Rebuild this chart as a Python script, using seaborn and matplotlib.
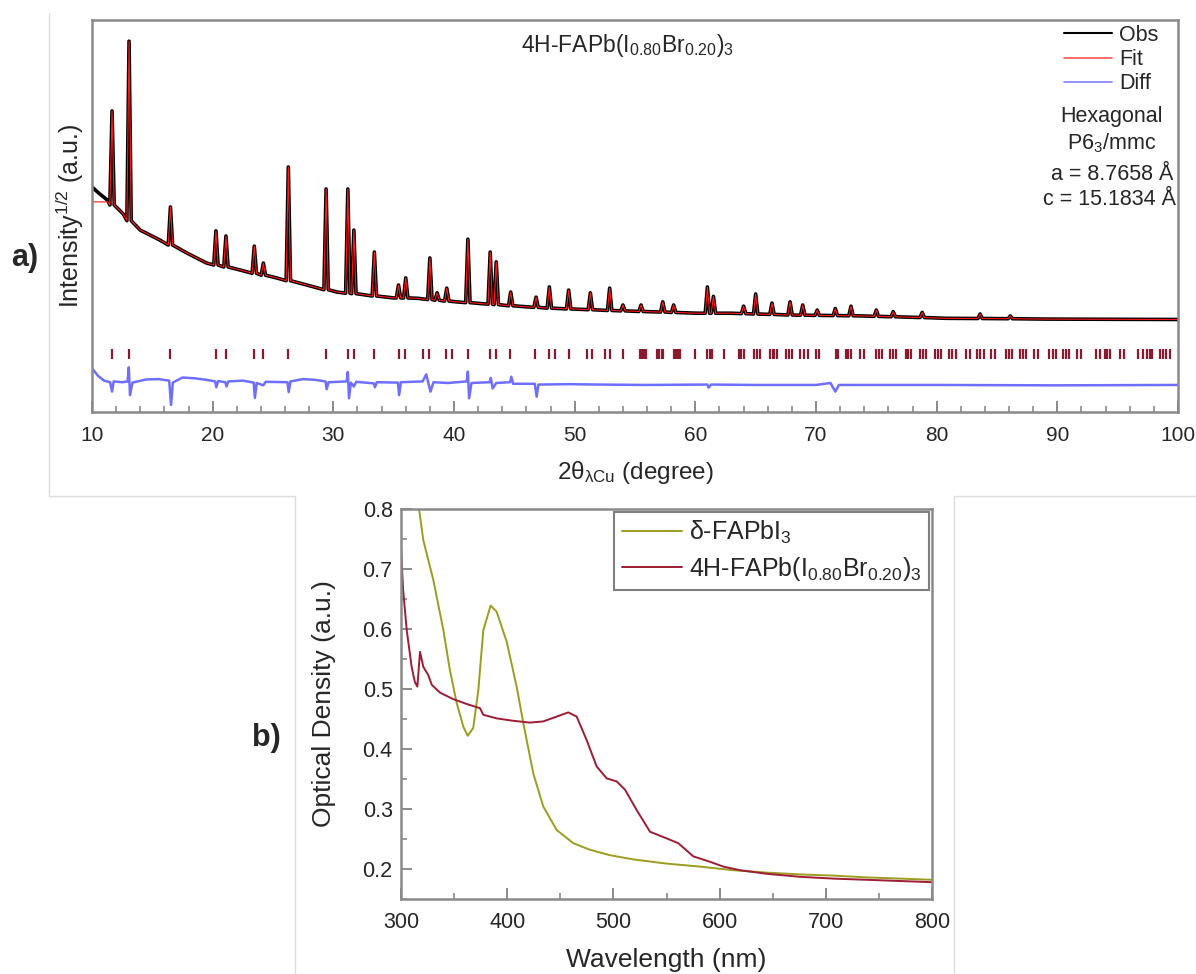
import numpy as np
import pandas as pd
import seaborn as sns
import matplotlib.pyplot as plt
from matplotlib.lines import Line2D
from matplotlib.ticker import MultipleLocator

# -- STYLE -- #
sns.set_style('white')
plt.rcParams['font.family'] = ['Liberation Sans', 'DejaVu Sans']
plt.rcParams['mathtext.fontset'] = 'custom'
plt.rcParams['mathtext.rm'] = 'Liberation Sans'
plt.rcParams['mathtext.it'] = 'Liberation Sans:italic'
plt.rcParams['mathtext.default'] = 'regular'

# -- DATA -- #
# a) XRD pattern, intensity in arbitrary units (0-100 scale of the panel)
bg_x = [10.0, 10.5, 11.3, 12.6, 14.0, 15.6, 17.9, 19.5, 22.3, 25.3, 27.8, 30.3, 32.8,
        35.0, 37.0, 40.2, 45.7, 50.4, 56.0, 60.1, 63.0, 68.4, 73.9, 80.8, 89.1, 100.0]
bg_y = [57.4, 56.0, 54.0, 50.5, 46.4, 43.9, 40.5, 38.0, 36.2, 34.2, 32.4, 30.6, 29.8,
        29.1, 29.0, 28.1, 26.9, 26.2, 25.6, 25.2, 25.2, 24.7, 24.5, 23.9, 23.7, 23.6]

peak_pos = [11.66, 13.07, 16.5, 20.27, 21.1, 23.45, 24.2, 26.27, 29.4, 31.2, 31.7, 33.4,
            35.4, 36.0, 38.0, 38.6, 39.4, 41.15, 43.0, 43.5, 44.7, 46.8, 47.9, 49.5,
            51.3, 52.9, 54.0, 55.5, 57.3, 58.2, 61.0, 61.5, 64.0, 65.0, 66.35, 67.85,
            68.9, 70.1, 71.6, 72.9, 75.0, 76.4, 78.8, 83.6, 86.1]
peak_top = [76.8, 94.6, 52.3, 46.2, 44.9, 42.3, 38.0, 62.5, 56.9, 56.9, 46.4, 40.8,
            32.4, 34.2, 39.3, 30.4, 31.6, 44.1, 40.8, 38.3, 30.6, 29.3, 31.9, 31.1,
            30.4, 31.6, 27.3, 27.3, 28.1, 27.3, 31.9, 29.5, 27.0, 30.1, 27.8, 28.1,
            27.3, 26.0, 26.4, 27.0, 26.0, 25.6, 25.4, 25.0, 24.5]
peak_base = [52.8, 48.8, 42.6, 37.5, 37.0, 35.4, 34.9, 33.5, 31.2, 30.3, 30.2, 29.6,
             29.1, 29.1, 28.7, 28.5, 28.3, 27.9, 27.5, 27.4, 27.1, 26.7, 26.5, 26.3,
             26.1, 25.9, 25.8, 25.65, 25.5, 25.4, 25.2, 25.2, 25.1, 25.0, 24.9, 24.75,
             24.7, 24.65, 24.6, 24.55, 24.4, 24.3, 24.1, 23.85, 23.8]

fit_lead_x = [10.0, 11.3]
fit_lead_y = [53.6, 53.6]

diff_x = [10.0, 10.5, 11.0, 11.5, 11.66, 11.8, 12.5, 12.95, 13.05, 13.15, 13.35, 14.5,
          15.5, 16.4, 16.55, 16.7, 17.5, 18.5, 19.5, 20.2, 20.3, 20.45, 21.05, 21.15,
          21.3, 22.5, 23.4, 23.5, 23.65, 24.2, 24.4, 26.2, 26.3, 26.45, 27.5, 28.5,
          29.35, 29.45, 29.6, 31.1, 31.2, 31.3, 31.45, 31.7, 31.9, 33.35, 33.45, 33.6,
          35.35, 35.45, 35.6, 37.4, 37.7, 38.05, 38.3, 39.5, 41.05, 41.15, 41.25, 41.45,
          42.95, 43.05, 43.2, 43.5, 44.65, 44.75, 44.9, 46.7, 46.85, 47.0, 49.5, 52.0,
          56.0, 61.0, 61.1, 61.3, 65.0, 70.0, 71.2, 71.6, 71.9, 80.0, 90.0, 100.0]
diff_y = [11.2, 9.2, 8.0, 7.6, 5.2, 7.8, 7.6, 7.8, 11.4, 4.3, 7.5, 8.3,
          8.4, 8.0, 1.8, 7.5, 8.8, 8.6, 8.2, 7.8, 6.3, 7.9, 7.6, 6.5,
          7.8, 8.0, 7.5, 3.6, 7.4, 6.8, 7.7, 7.6, 5.1, 7.8, 8.4, 8.2,
          7.8, 5.8, 7.6, 7.8, 10.2, 3.5, 7.5, 6.5, 7.7, 7.3, 6.3, 7.6,
          7.5, 4.3, 7.6, 7.8, 9.6, 5.2, 7.6, 7.4, 7.8, 10.3, 3.5, 7.4,
          7.6, 8.7, 6.0, 7.4, 7.6, 9.0, 7.2, 7.2, 3.9, 7.0, 7.1, 7.0,
          6.9, 7.0, 6.2, 7.0, 6.9, 6.9, 7.4, 5.2, 6.9, 6.9, 6.8, 6.9]

bragg_pos = [11.66, 13.07, 16.5, 20.27, 21.1, 23.45, 24.2, 26.27, 29.4, 31.2, 31.7, 33.4,
             35.46, 35.93, 37.45, 37.95, 39.33, 39.80, 41.18, 42.97, 43.45, 44.63, 46.70,
             47.89, 48.36, 49.52, 51.04, 51.42, 52.50, 52.92, 54.02, 55.4, 55.6, 55.75,
             55.9, 56.8, 57.0, 57.2, 57.35, 58.2, 58.4, 58.55, 58.7, 60.0, 60.96, 61.2,
             61.4, 62.36, 63.6, 63.8, 64.0, 64.85, 65.1, 65.34, 66.2, 66.4, 66.55, 66.73,
             67.5, 67.77, 68.05, 68.71, 69.02, 69.35, 69.98, 70.26, 71.64, 71.83, 72.47,
             72.69, 72.94, 73.63, 73.96, 75.01, 75.26, 75.51, 76.17, 76.42, 76.67, 77.44,
             77.66, 77.91, 78.60, 78.88, 79.15, 79.85, 80.12, 80.40, 81.03, 81.31, 81.59,
             82.47, 82.80, 83.35, 83.63, 83.91, 84.54, 84.87, 85.73, 86.0, 86.28, 86.89,
             87.17, 87.44, 88.08, 88.41, 89.32, 89.60, 89.87, 90.48, 90.73, 90.98, 91.64,
             92.0, 93.19, 93.57, 93.93, 94.15, 94.35, 95.18, 95.51, 96.70, 97.06, 97.39,
             97.64, 97.88, 98.49, 98.77, 99.04, 99.32]

# b) optical density spectra
wl_delta = [317, 321, 330.4, 339.9, 346, 352.4, 358.7, 362.8, 368, 372.8, 377.5, 384.4,
            390, 399.5, 408.9, 415.2, 424.6, 434, 446.6, 462.3, 478, 496.8, 518.7, 550,
            581.5, 612.9, 644.3, 675.7, 707, 738.4, 769.8, 800]
od_delta = [0.800, 0.748, 0.682, 0.598, 0.532, 0.477, 0.437, 0.422, 0.435, 0.498, 0.598,
            0.639, 0.629, 0.579, 0.504, 0.443, 0.359, 0.304, 0.265, 0.243, 0.232, 0.223,
            0.216, 0.209, 0.204, 0.198, 0.194, 0.191, 0.189, 0.186, 0.184, 0.182]
wl_4h = [300, 302, 305.4, 310, 313, 315.4, 317.9, 321, 325.7, 329, 336.7, 349.3, 361.9,
         374.4, 377.5, 390.1, 405.8, 421.5, 434, 446.6, 457.5, 465.4, 474.8, 484.2, 493.7,
         503.1, 511, 522, 534.5, 550.2, 561.1, 575.3, 591, 603.5, 619.2, 644.3, 675.7,
         707, 738.4, 769.8, 800]
od_4h = [0.737, 0.665, 0.598, 0.537, 0.512, 0.504, 0.562, 0.537, 0.523, 0.507, 0.494,
         0.483, 0.475, 0.468, 0.457, 0.451, 0.447, 0.444, 0.446, 0.454, 0.461, 0.454,
         0.415, 0.371, 0.351, 0.346, 0.332, 0.298, 0.262, 0.251, 0.243, 0.221, 0.212,
         0.204, 0.198, 0.192, 0.187, 0.184, 0.182, 0.180, 0.178]

# -- BUILD PATTERN TABLES -- #
PEAK_HALF_BASE = 0.18
vx = list(bg_x)
vy = list(bg_y)
for p, t, b in zip(peak_pos, peak_top, peak_base):
    vx += [p - PEAK_HALF_BASE, p, p + PEAK_HALF_BASE]
    vy += [b, t, b]
order = np.argsort(vx, kind='stable')
obs = pd.DataFrame({'two_theta': np.array(vx)[order], 'intensity': np.array(vy)[order]})
fit = pd.concat([
    pd.DataFrame({'two_theta': fit_lead_x, 'intensity': fit_lead_y}),
    obs[obs['two_theta'] > fit_lead_x[-1]]
], ignore_index=True)
diff = pd.DataFrame({'two_theta': diff_x, 'intensity': diff_y})

uv = pd.concat([
    pd.DataFrame({'wavelength': wl_delta, 'od': od_delta, 'sample': r'δ-FAPbI$_3$'}),
    pd.DataFrame({'wavelength': wl_4h, 'od': od_4h,
                  'sample': r'4H-FAPb(I$_{0.80}$Br$_{0.20}$)$_3$'}),
], ignore_index=True)

# -- FIGURE -- #
W, H = 1196, 974
fig = plt.figure(figsize=(W / 100, H / 100), dpi=100)
ax_a = fig.add_axes([92 / W, 1 - 412 / H, 1086 / W, 392 / H])
ax_b = fig.add_axes([401 / W, 1 - 899 / H, 531 / W, 390 / H])

spine_col = '#8a8a8a'

# panel a
sns.lineplot(data=obs, x='two_theta', y='intensity', ax=ax_a, color='black', lw=2.6,
             sort=False, estimator=None, label='Obs')
sns.lineplot(data=fit, x='two_theta', y='intensity', ax=ax_a, color='#ff1a1a', lw=0.8,
             sort=False, estimator=None, label='Fit')
sns.lineplot(data=diff, x='two_theta', y='intensity', ax=ax_a, color='#6f6fff', lw=1.8,
             sort=False, estimator=None, label='Diff')
ax_a.vlines(bragg_pos, 13.5, 16.1, color='#8b1a2e', lw=1.6)

ax_a.set_xlim(10, 100)
ax_a.set_ylim(0, 100)
ax_a.set_yticks([])
ax_a.xaxis.set_major_locator(MultipleLocator(10))
ax_a.xaxis.set_minor_locator(MultipleLocator(2))
ax_a.tick_params(axis='x', which='major', direction='in', length=8, width=1.4,
                 color=spine_col, labelsize=15, pad=10, bottom=True)
ax_a.tick_params(axis='x', which='minor', direction='in', length=4, width=1.2,
                 color=spine_col, bottom=True)
ax_a.set_xlabel(r'2θ$_{\lambda Cu}$ (degree)', fontsize=17.5, labelpad=10)
ax_a.set_ylabel(r'Intensity$^{1/2}$ (a.u.)', fontsize=18, labelpad=4)

leg_a = ax_a.legend(loc='upper right', frameon=False, fontsize=15.5, handlelength=2.2,
                    handletextpad=0.35, labelspacing=0.15, borderaxespad=0.3,
                    bbox_to_anchor=(0.996, 1.026))
leg_a.get_lines()[0].set_linewidth(1.5)
leg_a.get_lines()[1].set_color('#ff5050')
leg_a.get_lines()[1].set_linewidth(1.2)
leg_a.get_lines()[2].set_color('#8080ff')
leg_a.get_lines()[2].set_linewidth(1.2)

ax_a.text(0.493, 0.936, r'4H-FAPb(I$_{0.80}$Br$_{0.20}$)$_3$', transform=ax_a.transAxes,
          ha='center', va='center', fontsize=16.5)
ax_a.text(0.939, 0.753, 'Hexagonal', transform=ax_a.transAxes, ha='center', va='center',
          fontsize=15.5)
ax_a.text(0.939, 0.686, r'P6$_3$/mmc', transform=ax_a.transAxes, ha='center',
          va='center', fontsize=15.5)
ax_a.text(0.939, 0.607, 'a = 8.7658 Å', transform=ax_a.transAxes, ha='center',
          va='center', fontsize=15.5)
ax_a.text(0.998, 0.541, 'c = 15.1834 Å', transform=ax_a.transAxes, ha='right',
          va='center', fontsize=15.5)

# panel b
sns.lineplot(data=uv, x='wavelength', y='od', hue='sample', ax=ax_b,
             palette=['#9c9c1e', '#9e1c34'], lw=1.4, sort=False, estimator=None)
ax_b.set_xlim(300, 800)
ax_b.set_ylim(0.15, 0.8)
ax_b.xaxis.set_major_locator(MultipleLocator(100))
ax_b.xaxis.set_minor_locator(MultipleLocator(50))
ax_b.yaxis.set_major_locator(MultipleLocator(0.1))
ax_b.yaxis.set_minor_locator(MultipleLocator(0.05))
ax_b.tick_params(which='major', direction='in', length=8, width=1.4, color=spine_col,
                 labelsize=15.5, bottom=True, left=True)
ax_b.tick_params(which='minor', direction='in', length=4, width=1.2, color=spine_col,
                 bottom=True, left=True)
ax_b.tick_params(axis='x', pad=9)
ax_b.tick_params(axis='y', pad=6)
ax_b.set_xlabel('Wavelength (nm)', fontsize=19, labelpad=11)
ax_b.set_ylabel('Optical Density (a.u.)', fontsize=19, labelpad=19)
leg_b = ax_b.legend(loc='upper right', fontsize=18, handlelength=2.4, handletextpad=0.3,
                    labelspacing=0.35, borderaxespad=0.1, borderpad=0.3, fancybox=False,
                    framealpha=1, edgecolor='#808080', title=None)
leg_b.get_frame().set_linewidth(1.5)

for ax in (ax_a, ax_b):
    for s in ax.spines.values():
        s.set_color(spine_col)
        s.set_linewidth(1.8)

# panel letters
fig.text(25 / W, 1 - 258 / H, 'a)', fontsize=22, fontweight='bold', ha='center', va='center')
fig.text(266 / W, 1 - 738 / H, 'b)', fontsize=22, fontweight='bold', ha='center', va='center')

# faint frames of the original figure pieces
frame_kw = dict(transform=fig.transFigure, color='#dcdcdc', lw=1.0)
fig.add_artist(Line2D([49 / W, 49 / W], [1 - 13 / H, 1 - 496 / H], **frame_kw))
fig.add_artist(Line2D([49 / W, 295 / W], [1 - 496 / H, 1 - 496 / H], **frame_kw))
fig.add_artist(Line2D([295 / W, 295 / W], [1 - 496 / H, 0], **frame_kw))
fig.add_artist(Line2D([954 / W, 954 / W], [1 - 496 / H, 0], **frame_kw))
fig.add_artist(Line2D([954 / W, 1], [1 - 496 / H, 1 - 496 / H], **frame_kw))

fig.savefig('out.png', dpi=100)
